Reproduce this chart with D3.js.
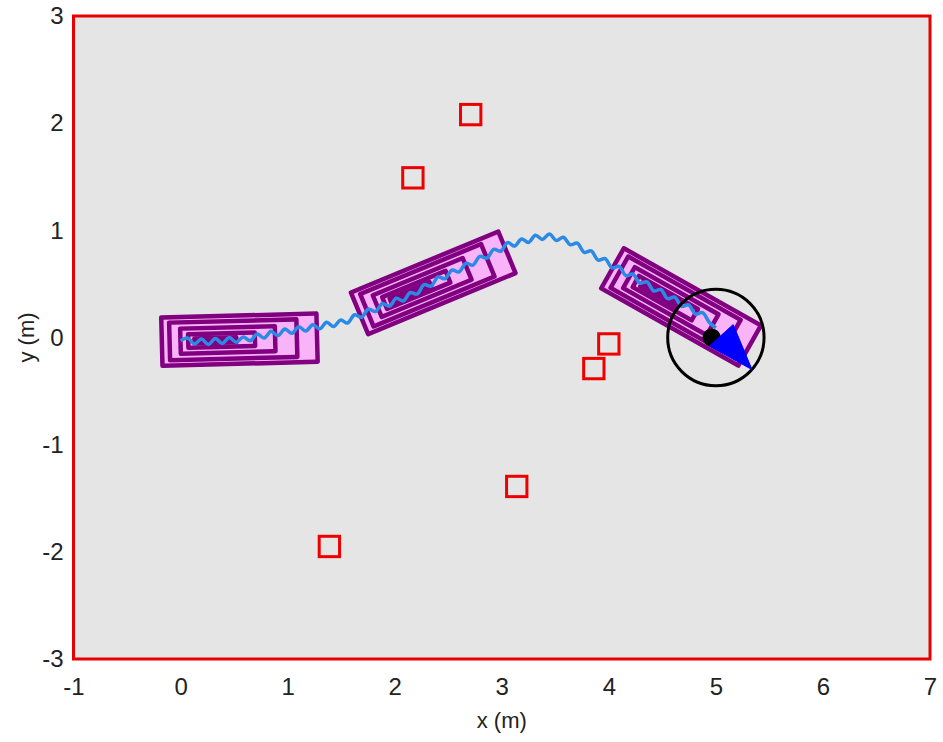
<!DOCTYPE html>
<html>
<head>
<meta charset="utf-8">
<script src="https://cdn.jsdelivr.net/npm/d3@7"></script>
<style>
  body { margin: 0; background: #fff; }
  text { font-family: "Liberation Sans", Arial, Helvetica, sans-serif; fill: #222; }
</style>
</head>
<body>
<svg id="chart" width="943" height="742"></svg>
<script>
'use strict'

// axis ticks
var xTicks = [-1, 0, 1, 2, 3, 4, 5, 6, 7]
var yTicks = [-3, -2, -1, 0, 1, 2, 3]

// obstacles (center x, center y), side length in m
var obstacles = [
  [2.71, 2.08],
  [2.17, 1.49],
  [4.00, -0.06],
  [3.86, -0.29],
  [3.14, -1.39],
  [1.39, -1.95]
]
var obstacleSide = 0.19

// vehicle snapshots: center x, center y, heading (deg), length, width
var cars = [
  { x: 0.55, y: -0.02, heading: 1.5, length: 1.45, width: 0.45 },
  { x: 2.36, y: 0.51, heading: 22.5, length: 1.49, width: 0.42 },
  { x: 4.675, y: 0.285, heading: -29.4, length: 1.47, width: 0.43 }
]

// robot and its heading arrow
var robot = { x: 5.0, y: 0.0, r: 0.45, heading: -48 }
var dot = { x: 4.96, y: 0.0, r: 0.085 }

// travelled path
var pathX = [0.00, 0.065, 0.13, 0.195, 0.26, 0.325, 0.39, 0.455, 0.52, 0.585,
  0.65, 0.715, 0.78, 0.845, 0.91, 0.975, 1.04, 1.105, 1.17, 1.235,
  1.30, 1.365, 1.43, 1.495, 1.56, 1.625, 1.69, 1.755, 1.82, 1.885,
  1.95, 2.015, 2.08, 2.145, 2.21, 2.275, 2.34, 2.405, 2.47, 2.535,
  2.60, 2.665, 2.73, 2.795, 2.86, 2.925, 2.99, 3.055, 3.12, 3.185,
  3.25, 3.315, 3.38, 3.445, 3.51, 3.575, 3.64, 3.705, 3.77, 3.835,
  3.90, 3.965, 4.03, 4.095, 4.16, 4.225, 4.29, 4.355, 4.42, 4.485,
  4.55, 4.615, 4.68, 4.745, 4.81, 4.875, 4.94, 5.00]
var pathY = [-0.03, -0.005, -0.06, -0.015, -0.065, -0.01, -0.055, 0.0, -0.045, 0.005,
  -0.03, 0.032, -0.005, 0.058, 0.018, 0.079, 0.039, 0.10, 0.06, 0.12,
  0.081, 0.142, 0.102, 0.163, 0.135, 0.212, 0.189, 0.266, 0.242, 0.317,
  0.291, 0.366, 0.34, 0.419, 0.406, 0.493, 0.48, 0.565, 0.548, 0.629,
  0.611, 0.692, 0.675, 0.757, 0.74, 0.822, 0.805, 0.886, 0.853, 0.92,
  0.887, 0.954, 0.915, 0.965, 0.905, 0.935, 0.865, 0.88, 0.795, 0.808,
  0.722, 0.736, 0.65, 0.664, 0.578, 0.592, 0.506, 0.52, 0.434, 0.448,
  0.362, 0.376, 0.29, 0.304, 0.218, 0.232, 0.14, 0.09]

var svg = d3.select('#chart'),
  width = +svg.attr('width'),
  height = +svg.attr('height')

var margin = { top: 16, right: 13, bottom: 83, left: 73.5 }

var x = d3.scaleLinear().domain([-1, 7]).range([margin.left, width - margin.right])
var y = d3.scaleLinear().domain([-3, 3]).range([height - margin.bottom, margin.top])
var kx = x(1) - x(0)
var ky = y(0) - y(1)

// plot background
svg.append('rect')
  .attr('x', x(-1)).attr('y', y(3))
  .attr('width', x(7) - x(-1)).attr('height', y(-3) - y(3))
  .attr('fill', '#e5e5e5')

// nested outlines drawn for every vehicle (fractions of length / width)
var shells = [
  { u0: 0.00, u1: 1.00, h: 0.50, fill: '#f9b4f9' },
  { u0: 0.05, u1: 0.87, h: 0.39, fill: '#f9b4f9' },
  { u0: 0.12, u1: 0.73, h: 0.26, fill: '#f9b4f9' },
  { u0: 0.17, u1: 0.60, h: 0.14, fill: '#f9b4f9' },
  { u0: 0.21, u1: 0.48, h: 0.05, fill: '#800080' }
]

var car = svg.append('g').attr('class', 'cars')
  .selectAll('g')
  .data(cars)
  .enter().append('g')
  .attr('transform', function(d) {
    return 'translate(' + x(d.x) + ',' + y(d.y) + ') rotate(' + (-d.heading) + ')'
  })

car.each(function(d) {
  var L = d.length * kx, W = d.width * ky
  d3.select(this).selectAll('rect')
    .data(shells)
    .enter().append('rect')
    .attr('x', function(s) { return -L / 2 + s.u0 * L })
    .attr('y', function(s) { return -s.h * W })
    .attr('width', function(s) { return (s.u1 - s.u0) * L })
    .attr('height', function(s) { return 2 * s.h * W })
    .attr('fill', function(s) { return s.fill })
    .attr('stroke', '#800080')
    .attr('stroke-width', 4.5)
    .attr('stroke-linejoin', 'round')
})

// path
var line = d3.line()
  .x(function(d) { return x(d[0]) })
  .y(function(d) { return y(d[1]) })
  .curve(d3.curveCatmullRom)

svg.append('path')
  .datum(pathX.map(function(v, i) { return [v, pathY[i]] }))
  .attr('d', line)
  .attr('fill', 'none')
  .attr('stroke', '#2a8ae6')
  .attr('stroke-width', 3.5)

// obstacles
svg.append('g').selectAll('rect')
  .data(obstacles)
  .enter().append('rect')
  .attr('x', function(d) { return x(d[0] - obstacleSide / 2) })
  .attr('y', function(d) { return y(d[1] + obstacleSide / 2) })
  .attr('width', obstacleSide * kx)
  .attr('height', obstacleSide * ky)
  .attr('fill', 'none')
  .attr('stroke', '#ee0000')
  .attr('stroke-width', 3)

// robot footprint
svg.append('circle')
  .attr('cx', x(robot.x)).attr('cy', y(robot.y))
  .attr('r', robot.r * kx)
  .attr('fill', 'none')
  .attr('stroke', '#000')
  .attr('stroke-width', 3)

svg.append('circle')
  .attr('cx', x(dot.x)).attr('cy', y(dot.y))
  .attr('r', dot.r * kx)
  .attr('fill', '#000')

// heading arrow
var a = robot.heading * Math.PI / 180
var bx = robot.x + 0.05, by = robot.y + 0.02
var arrowLen = 0.43, arrowHalf = 0.15
var tri = [
  [bx + arrowHalf * Math.sin(a), by - arrowHalf * Math.cos(a)],
  [bx + arrowLen * Math.cos(a), by + arrowLen * Math.sin(a)],
  [bx - arrowHalf * Math.sin(a), by + arrowHalf * Math.cos(a)]
]
svg.append('path')
  .attr('d', 'M' + tri.map(function(p) { return x(p[0]) + ',' + y(p[1]) }).join('L') + 'Z')
  .attr('fill', '#0000ff')
  .attr('stroke', '#0000ff')
  .attr('stroke-width', 1)

// frame
svg.append('rect')
  .attr('x', x(-1)).attr('y', y(3))
  .attr('width', x(7) - x(-1)).attr('height', y(-3) - y(3))
  .attr('fill', 'none')
  .attr('stroke', '#e60000')
  .attr('stroke-width', 3)

// axes
svg.append('g')
  .attr('transform', 'translate(0,' + y(-3) + ')')
  .call(d3.axisBottom(x).tickValues(xTicks).tickSize(0).tickPadding(19)
    .tickFormat(function(d) { return String(d) }))
svg.append('g')
  .attr('transform', 'translate(' + x(-1) + ',0)')
  .call(d3.axisLeft(y).tickValues(yTicks).tickSize(0).tickPadding(10)
    .tickFormat(function(d) { return String(d) }))

svg.selectAll('.domain').remove()
svg.selectAll('.tick text')
  .style('font-size', '24px')
  .attr('fill', '#222')

svg.append('text')
  .attr('x', (x(-1) + x(7)) / 2)
  .attr('y', 728)
  .attr('text-anchor', 'middle')
  .style('font-size', '22px')
  .text('x (m)')

svg.append('text')
  .attr('transform', 'translate(34,' + y(0) + ') rotate(-90)')
  .attr('text-anchor', 'middle')
  .style('font-size', '22px')
  .text('y (m)')
</script>
</body>
</html>
